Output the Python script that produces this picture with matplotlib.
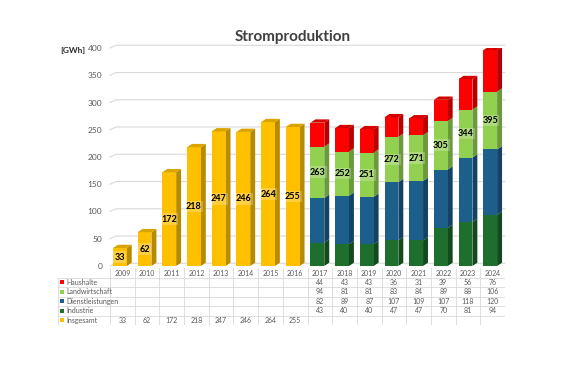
import matplotlib
matplotlib.use("Agg")
import matplotlib.pyplot as plt
from matplotlib.patches import Polygon, Rectangle

plt.rcParams["font.family"] = ["Lato", "DejaVu Sans"]

years = [str(y) for y in range(2009, 2025)]
insgesamt = [33, 62, 172, 218, 247, 246, 264, 255]  # 2009-2016
haushalte = [44, 43, 43, 36, 31, 39, 56, 76]          # 2017-2024
landwirtschaft = [94, 81, 81, 83, 84, 89, 88, 106]
dienstleistungen = [82, 89, 87, 107, 109, 107, 118, 120]
industrie = [43, 40, 40, 47, 47, 70, 81, 94]
totals_label = [263, 252, 251, 272, 271, 305, 344, 395]

series_names = ["Haushalte", "Landwirtschaft", "Dienstleistungen", "Industrie", "Insgesamt"]
front = {"Haushalte": "#FF0000", "Landwirtschaft": "#92D050", "Dienstleistungen": "#1C5F8A",
         "Industrie": "#1E6E2E", "Insgesamt": "#FFC000"}
side = {"Haushalte": "#B80000", "Landwirtschaft": "#6A9A3A", "Dienstleistungen": "#134264",
        "Industrie": "#124A1E", "Insgesamt": "#B88A00"}
top = {"Haushalte": "#D40000", "Landwirtschaft": "#7DB446", "Dienstleistungen": "#17507A",
       "Industrie": "#175C26", "Insgesamt": "#D9A300"}

W, H = 562, 374
fig = plt.figure(figsize=(W / 100, H / 100), dpi=100)
fig.patch.set_facecolor("white")

ax = fig.add_axes([110 / W, 108 / H, 395 / W, 218 / H])
ax.set_xlim(-0.5, 15.5)
ax.set_ylim(0, 400)
for s in ax.spines.values():
    s.set_visible(False)
ax.set_xticks([])
ax.set_yticks(range(0, 401, 50))
ax.tick_params(axis="y", length=0, labelsize=6, labelcolor="#595959", pad=5.5)

dx, dy = 0.2, 6.0
bw = 0.56
gdx, gdy = 0.25, 5.0
for v in range(0, 401, 50):
    ax.plot([-0.5, -0.5 + gdx, 15.5], [v, v + gdy, v + gdy], color="#D9D9D9", lw=0.8,
            zorder=0, clip_on=False)


def bar3d(xc, y0, y1, name, draw_top):
    xl = xc - bw / 2 - dx / 2
    xr = xl + bw
    ax.add_patch(Rectangle((xl, y0), bw, y1 - y0, facecolor=front[name], edgecolor="none", zorder=3))
    ax.add_patch(Polygon([(xr, y0), (xr + dx, y0 + dy), (xr + dx, y1 + dy), (xr, y1)],
                         closed=True, facecolor=side[name], edgecolor="none", zorder=2))
    if draw_top:
        ax.add_patch(Polygon([(xl, y1), (xl + dx, y1 + dy), (xr + dx, y1 + dy), (xr, y1)],
                             closed=True, facecolor=top[name], edgecolor="none", zorder=3))


lab_kw = dict(ha="center", va="center", fontsize=6.5, fontweight="bold", color="black", zorder=5,
              bbox=dict(boxstyle="square,pad=0.15", facecolor="white", edgecolor="none", alpha=0.25))

for i, v in enumerate(insgesamt):
    bar3d(i, 0, v, "Insgesamt", True)
    ax.text(i - dx / 2, v / 2, str(v), **lab_kw)

for j in range(len(haushalte)):
    i = j + 8
    segs = [("Industrie", industrie[j]), ("Dienstleistungen", dienstleistungen[j]),
            ("Landwirtschaft", landwirtschaft[j]), ("Haushalte", haushalte[j])]
    base = 0
    for k, (name, v) in enumerate(segs):
        bar3d(i, base, base + v, name, k == len(segs) - 1)
        if name == "Landwirtschaft":
            ax.text(i - dx / 2, base + v / 2, str(totals_label[j]), **lab_kw)
        base += v

fig.text(293 / W, 1 - 37 / H, "Stromproduktion", ha="center", va="center", fontsize=11,
         fontweight="bold", color="#404040")
fig.text(85 / W, 1 - 50 / H, "[GWh]", ha="right", va="center", fontsize=6,
         fontweight="bold", color="#262626")

# data table
unit = 395 / 16
lab_w = 52 / unit
tax = fig.add_axes([58 / W, 49 / H, 447 / W, 219 / H - 162 / H])
tax.set_xlim(-0.5 - lab_w, 15.5)
tax.set_ylim(6, 0)
tax.axis("off")
gc = "#D9D9D9"
for r in range(1, 7):
    tax.plot([-0.5 - lab_w, 15.5], [r, r], color=gc, lw=0.6)
tax.plot([-0.5 - lab_w, -0.5 - lab_w], [1, 6], color=gc, lw=0.6)
for c in range(17):
    tax.plot([c - 0.5, c - 0.5], [0, 6], color=gc, lw=0.6)
for c, y in enumerate(years):
    tax.text(c, 0.55, y, ha="center", va="center", fontsize=5, color="#595959")
table_vals = {
    "Haushalte": [None] * 8 + haushalte,
    "Landwirtschaft": [None] * 8 + landwirtschaft,
    "Dienstleistungen": [None] * 8 + dienstleistungen,
    "Industrie": [None] * 8 + industrie,
    "Insgesamt": insgesamt + [None] * 8,
}
for r, name in enumerate(series_names):
    yy = r + 1.5
    tax.add_patch(Rectangle((-0.5 - lab_w + 0.1, yy - 0.22), 0.16, 0.44, facecolor=front[name],
                            edgecolor="none"))
    tax.text(-0.5 - lab_w + 0.33, yy, name, ha="left", va="center", fontsize=5, color="#595959")
    for c, v in enumerate(table_vals[name]):
        if v is not None:
            tax.text(c, yy, str(v), ha="center", va="center", fontsize=5, color="#595959")

fig.savefig("out.png", dpi=100)
